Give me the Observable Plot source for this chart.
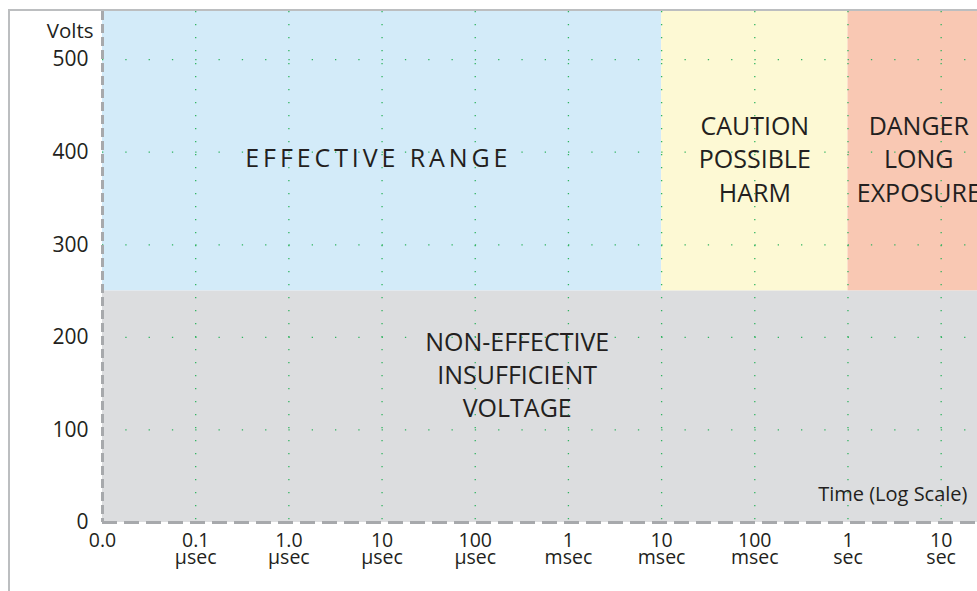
<!DOCTYPE html>
<html><head><meta charset="utf-8">
<script src="https://cdn.jsdelivr.net/npm/d3@7"></script>
<script src="https://cdn.jsdelivr.net/npm/@observablehq/plot@0.6"></script>
<style>
body{margin:0;background:#fff;overflow:hidden}
#wrap{position:relative;width:977px;height:591px;overflow:hidden}
#frame{position:absolute;left:7.5px;top:8.5px;right:-10px;bottom:-10px;border-left:2.5px solid #bcbec0;border-top:2.5px solid #bcbec0}
#chart{position:absolute;left:0;top:0}
</style></head><body>
<div id="wrap"><div id="frame"></div><div id="chart"></div></div>
<script>
// x axis: evenly spaced log-decade ticks
const tickPositions = [0, 1, 2, 3, 4, 5, 6, 7, 8, 9];
const tickValues = ["0.0", "0.1", "1.0", "10", "100", "1", "10", "100", "1", "10"];
const tickUnits = ["", "µsec", "µsec", "µsec", "µsec", "msec", "msec", "msec", "sec", "sec"];
const voltTicks = [0, 100, 200, 300, 400, 500];

// zones
const zoneX1 = [0, 6, 8, 0];
const zoneX2 = [6, 8, 9.39, 9.39];
const zoneY1 = [250, 250, 250, 0];
const zoneY2 = [552, 552, 552, 250];
const zoneColors = ["#d3ebf9", "#fdf9d4", "#f9c8b3", "#dcdddf"];

// zone labels
const zoneNames = ["EFFECTIVE RANGE", "CAUTION\nPOSSIBLE\nHARM", "DANGER\nLONG\nEXPOSURE", "NON-EFFECTIVE\nINSUFFICIENT\nVOLTAGE"];
const labelX = [2.96, 7.0, 8.76, 4.45];
const labelY = [395, 394, 394, 161];

const zones = zoneX1.map((x1, i) => ({x1, x2: zoneX2[i], y1: zoneY1[i], y2: zoneY2[i], fill: zoneColors[i]}));
const labels = zoneNames.map((t, i) => ({t, x: labelX[i], y: labelY[i]}));

const ink = "#231f20";
const gridColor = "#2fb35f";
const axisGray = "#a7a9ac";

const chart = Plot.plot({
  width: 977,
  height: 591,
  marginLeft: 102,
  marginRight: 0,
  marginTop: 11,
  marginBottom: 69,
  style: {background: "transparent", fontFamily: "'Open Sans', sans-serif", color: ink},
  x: {domain: [0, 9.39]},
  y: {domain: [0, 552]},
  marks: [
    Plot.rect(zones, {x1: "x1", x2: "x2", y1: "y1", y2: "y2", fill: d => d.fill}),
    Plot.ruleX(tickPositions.slice(1), {stroke: gridColor, strokeWidth: 1.3, strokeDasharray: "1.3,11.7"}),
    Plot.ruleY(voltTicks.slice(1), {stroke: gridColor, strokeWidth: 1.3, strokeDasharray: "1.3,22"}),
    Plot.ruleX([0], {stroke: axisGray, strokeWidth: 3, strokeDasharray: "9,4"}),
    Plot.ruleY([0], {stroke: axisGray, strokeWidth: 3, strokeDasharray: "15,7"}),
    Plot.axisY({ticks: voltTicks, tickSize: 0, tickPadding: 14, fontSize: 21, label: null, tickFormat: d => String(d)}),
    Plot.axisX({ticks: tickPositions, tickSize: 0, tickPadding: 12, fontSize: 19.5, lineHeight: 0.88, label: null,
      tickFormat: i => tickValues[i] + (tickUnits[i] ? "\n" + tickUnits[i] : "")}),
    Plot.text(["Volts"], {frameAnchor: "top-left", dx: -9, dy: 12, textAnchor: "end", fontSize: 20.5, fill: ink}),
    Plot.text(["Time (Log Scale)"], {frameAnchor: "bottom-right", dx: -10, dy: -22, textAnchor: "end", fontSize: 20, fill: ink}),
    Plot.text(labels, {x: "x", y: "y", text: "t", fontSize: 25, lineHeight: 1.33, fill: ink})
  ]
});
document.getElementById("chart").appendChild(chart);
d3.select(chart).selectAll("text").filter(function() { return this.textContent === "EFFECTIVE RANGE"; })
  .attr("letter-spacing", 3.9);
</script>
</body></html>
